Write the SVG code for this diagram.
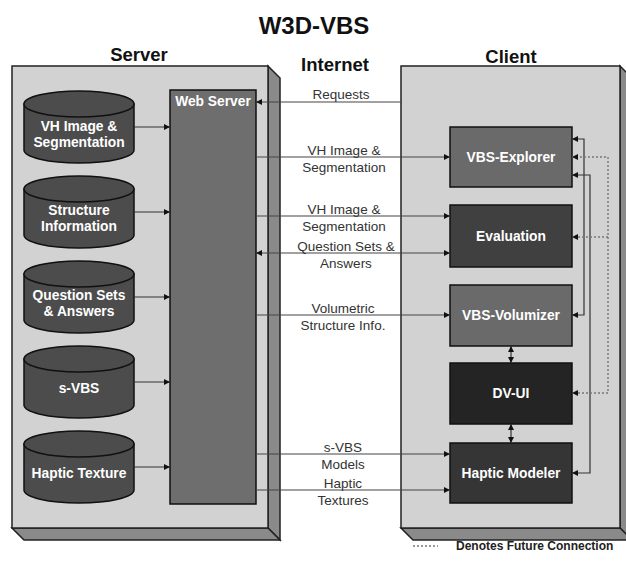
<svg xmlns="http://www.w3.org/2000/svg" width="626" height="562" viewBox="0 0 626 562">
  <style>
    text { font-family: "Liberation Sans", Arial, sans-serif; }
    .title { font-size: 24px; font-weight: bold; fill: #111; text-anchor: middle; }
    .head { font-size: 18.5px; font-weight: bold; fill: #111; text-anchor: middle; }
    .node { font-size: 13.8px; font-weight: bold; fill: #fff; text-anchor: middle; }
    .lbl { font-size: 13.5px; fill: #333; text-anchor: middle; }
    .legend { font-size: 12px; font-weight: bold; fill: #222; }
    .face { fill: #d2d2d2; stroke: #222; stroke-width: 1.5; }
    .side { fill: #8a8a8a; stroke: #222; stroke-width: 1.5; }
    .cyl { fill: #4c4c4c; stroke: #111; stroke-width: 1.5; }
    .box { stroke: #111; stroke-width: 1.5; }
    .wire { fill: none; stroke: #333; stroke-width: 1.2; }
    .net { fill: none; stroke: #444; stroke-width: 1.2; }
    .future { fill: none; stroke: #777; stroke-width: 1.4; stroke-dasharray: 2 2; }
  </style>
  <defs>
    <marker id="ah" markerWidth="6" markerHeight="6" refX="6" refY="3" orient="auto-start-reverse" markerUnits="userSpaceOnUse">
      <path d="M0,0 L6,3 L0,6 Z" fill="#111"/>
    </marker>
  </defs>

  <rect width="626" height="562" fill="#fff"/>

  <!-- titles -->
  <text class="title" x="314" y="34">W3D-VBS</text>
  <text class="head" x="139" y="61">Server</text>
  <text class="head" x="335" y="71">Internet</text>
  <text class="head" x="511" y="63">Client</text>

  <!-- server enclosure -->
  <g id="server">
    <polygon class="side" points="268,66 280,78 280,540 268,528"/>
    <polygon class="side" points="12,528 268,528 280,540 24,540"/>
    <rect class="face" x="12" y="66" width="256" height="462"/>
  </g>

  <!-- client enclosure -->
  <g id="client">
    <polygon class="side" points="620,66 632,78 632,540 620,528"/>
    <polygon class="side" points="401,528 620,528 632,540 413,540"/>
    <rect class="face" x="401" y="66" width="219" height="462"/>
  </g>

  <!-- web server -->
  <g id="web-server">
    <rect class="box" x="170" y="90" width="86" height="414" fill="#6e6e6e"/>
    <text class="node" x="213" y="106">Web Server</text>
  </g>

  <!-- data stores -->
  <g id="db-vh">
    <path class="cyl" d="M24,104 L24,150 A55,13 0 0 0 134,150 L134,104 Z"/>
    <ellipse class="cyl" cx="79" cy="104" rx="55" ry="13"/>
    <text class="node" x="79" y="131">VH Image &amp;</text>
    <text class="node" x="79" y="147">Segmentation</text>
  </g>
  <g id="db-structure">
    <path class="cyl" d="M24,189 L24,235 A55,13 0 0 0 134,235 L134,189 Z"/>
    <ellipse class="cyl" cx="79" cy="189" rx="55" ry="13"/>
    <text class="node" x="79" y="215">Structure</text>
    <text class="node" x="79" y="231">Information</text>
  </g>
  <g id="db-questions">
    <path class="cyl" d="M24,274 L24,320 A55,13 0 0 0 134,320 L134,274 Z"/>
    <ellipse class="cyl" cx="79" cy="274" rx="55" ry="13"/>
    <text class="node" x="79" y="300">Question Sets</text>
    <text class="node" x="79" y="316">&amp; Answers</text>
  </g>
  <g id="db-svbs">
    <path class="cyl" d="M24,359 L24,405 A55,13 0 0 0 134,405 L134,359 Z"/>
    <ellipse class="cyl" cx="79" cy="359" rx="55" ry="13"/>
    <text class="node" x="79" y="393">s-VBS</text>
  </g>
  <g id="db-haptic">
    <path class="cyl" d="M24,444 L24,490 A55,13 0 0 0 134,490 L134,444 Z"/>
    <ellipse class="cyl" cx="79" cy="444" rx="55" ry="13"/>
    <text class="node" x="79" y="478">Haptic Texture</text>
  </g>

  <!-- client modules -->
  <g id="vbs-explorer">
    <rect class="box" x="450" y="127" width="122" height="60" fill="#6a6a6a"/>
    <text class="node" x="511" y="162">VBS-Explorer</text>
  </g>
  <g id="evaluation">
    <rect class="box" x="450" y="205" width="122" height="62" fill="#404040"/>
    <text class="node" x="511" y="241">Evaluation</text>
  </g>
  <g id="vbs-volumizer">
    <rect class="box" x="450" y="285" width="122" height="61" fill="#6a6a6a"/>
    <text class="node" x="511" y="320">VBS-Volumizer</text>
  </g>
  <g id="dv-ui">
    <rect class="box" x="450" y="363" width="122" height="61" fill="#242424"/>
    <text class="node" x="511" y="398">DV-UI</text>
  </g>
  <g id="haptic-modeler">
    <rect class="box" x="450" y="443" width="122" height="60" fill="#353535"/>
    <text class="node" x="511" y="478">Haptic Modeler</text>
  </g>

  <!-- connectors -->
  <g id="connectors">
    <!-- stores to web server -->
    <line class="wire" x1="134" y1="127" x2="170" y2="127" marker-end="url(#ah)"/>
    <line class="wire" x1="134" y1="212" x2="170" y2="212" marker-end="url(#ah)"/>
    <line class="wire" x1="134" y1="297" x2="170" y2="297" marker-end="url(#ah)"/>
    <line class="wire" x1="134" y1="382" x2="170" y2="382" marker-end="url(#ah)"/>
    <line class="wire" x1="134" y1="467" x2="170" y2="467" marker-end="url(#ah)"/>

    <!-- internet links -->
    <line class="net" x1="401" y1="102" x2="256" y2="102" marker-end="url(#ah)"/>
    <line class="net" x1="256" y1="157" x2="450" y2="157" marker-end="url(#ah)"/>
    <line class="net" x1="256" y1="216" x2="450" y2="216" marker-end="url(#ah)"/>
    <line class="net" x1="256" y1="253" x2="450" y2="253" marker-start="url(#ah)" marker-end="url(#ah)"/>
    <line class="net" x1="256" y1="315" x2="450" y2="315" marker-end="url(#ah)"/>
    <line class="net" x1="256" y1="454" x2="450" y2="454" marker-end="url(#ah)"/>
    <line class="net" x1="256" y1="490" x2="450" y2="490" marker-end="url(#ah)"/>

    <text class="lbl" x="341" y="99">Requests</text>
    <text class="lbl" x="344" y="155">VH Image &amp;</text>
    <text class="lbl" x="344" y="172">Segmentation</text>
    <text class="lbl" x="344" y="214">VH Image &amp;</text>
    <text class="lbl" x="344" y="231">Segmentation</text>
    <text class="lbl" x="346" y="251">Question Sets &amp;</text>
    <text class="lbl" x="346" y="268">Answers</text>
    <text class="lbl" x="343" y="313">Volumetric</text>
    <text class="lbl" x="343" y="330">Structure Info.</text>
    <text class="lbl" x="343" y="452">s-VBS</text>
    <text class="lbl" x="343" y="469">Models</text>
    <text class="lbl" x="343" y="488">Haptic</text>
    <text class="lbl" x="343" y="505">Textures</text>

    <!-- module links inside client -->
    <line class="wire" x1="511" y1="346" x2="511" y2="363" marker-start="url(#ah)" marker-end="url(#ah)"/>
    <line class="wire" x1="511" y1="424" x2="511" y2="443" marker-start="url(#ah)" marker-end="url(#ah)"/>
    <polyline class="wire" points="572,139 584,139 584,315 572,315" marker-start="url(#ah)" marker-end="url(#ah)"/>
    <polyline class="wire" points="572,175 590,175 590,473 572,473" marker-start="url(#ah)" marker-end="url(#ah)"/>
    <polyline class="future" points="572,157 608,157 608,393 572,393" marker-start="url(#ah)" marker-end="url(#ah)"/>
    <line class="future" x1="608" y1="237" x2="572" y2="237" marker-end="url(#ah)"/>
  </g>

  <!-- legend -->
  <line class="future" x1="413" y1="546" x2="438" y2="546" stroke-width="1"/>
  <text class="legend" x="456" y="550">Denotes Future Connection</text>
</svg>
